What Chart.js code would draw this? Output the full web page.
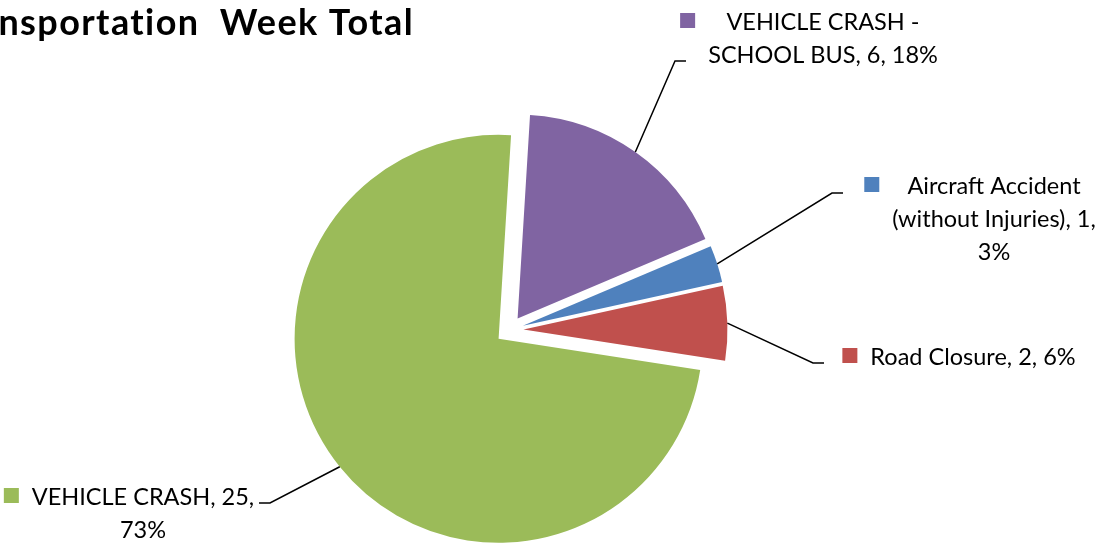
<!DOCTYPE html>
<html>
<head>
<meta charset="utf-8">
<title>Transportation Week Total</title>
<script src="https://cdn.jsdelivr.net/npm/chart.js@4.4.1/dist/chart.umd.min.js"></script>
<style>
    html, body { margin: 0; padding: 0; background: #ffffff; overflow: hidden; }
    canvas { display: block; }
</style>
</head>
<body>
<canvas id="graficoPizza" width="1112" height="544"></canvas>
<script>
// Data (clockwise from the top)
const categories = ['VEHICLE CRASH - SCHOOL BUS', 'Aircraft Accident (without Injuries)', 'Road Closure', 'VEHICLE CRASH'];
const values = [6, 1, 2, 25];
const percents = [18, 3, 6, 73];
const colors = ['#8064A2', '#4F81BD', '#C0504D', '#9BBB59'];
const chartTitle = 'Transportation  Week Total';

const EXPLODE = 14;      // distance each slice is pulled out
const LINE_H = 33;       // line height of the data labels
const LABEL_FONT = '23.5px Lato';
const TITLE_FONT = 'bold 36px Lato';

// Where each data label and its leader line elbow sit
const labelLayout = [
    { cx: 823, y: 30,  maxWidth: 255, elbow: [675, 61],  tail: 11 },
    { cx: 994, y: 194, maxWidth: 228, elbow: [832, 193], tail: 11 },
    { cx: 973, y: 365, maxWidth: 400, elbow: [813, 363], tail: 11 },
    { cx: 143, y: 505, maxWidth: 240, elbow: [270, 503], tail: -11 }
];

// Simple word wrap, like Excel does for data labels
function wrap(ctx, text, maxWidth) {
    const words = text.split(' ');
    const lines = [];
    let line = '';
    words.forEach(w => {
        const test = line ? line + ' ' + w : w;
        if (line && ctx.measureText(test).width > maxWidth) {
            lines.push(line);
            line = w;
        } else {
            line = test;
        }
    });
    if (line) lines.push(line);
    return lines;
}

// Draws every slice pulled out along its bisector
const explodePlugin = {
    id: 'explode',
    beforeDatasetsDraw(chart) {
        const ctx = chart.ctx;
        chart.getDatasetMeta(0).data.forEach(arc => {
            const mid = (arc.startAngle + arc.endAngle) / 2;
            ctx.save();
            ctx.translate(Math.cos(mid) * EXPLODE, Math.sin(mid) * EXPLODE);
            arc.draw(ctx);
            ctx.restore();
        });
        return false; // skip the default drawing
    }
};

// Title, leader lines and data labels with legend keys
const labelPlugin = {
    id: 'labels',
    afterDraw(chart) {
        const ctx = chart.ctx;
        const arcs = chart.getDatasetMeta(0).data;
        ctx.save();

        // title runs off the left edge, as in the original
        ctx.font = TITLE_FONT;
        ctx.letterSpacing = '1.4px'; // also stops the "ti" ligature
        ctx.fillStyle = '#000000';
        ctx.textAlign = 'right';
        ctx.textBaseline = 'alphabetic';
        ctx.fillText(chartTitle, 414, 35);
        ctx.letterSpacing = '0px';

        arcs.forEach((arc, i) => {
            const lay = labelLayout[i];
            const mid = (arc.startAngle + arc.endAngle) / 2;
            const r = arc.outerRadius;
            const x0 = arc.x + Math.cos(mid) * (EXPLODE + r);
            const y0 = arc.y + Math.sin(mid) * (EXPLODE + r);

            ctx.beginPath();
            ctx.moveTo(x0, y0);
            ctx.lineTo(lay.elbow[0], lay.elbow[1]);
            ctx.lineTo(lay.elbow[0] + lay.tail, lay.elbow[1]);
            ctx.strokeStyle = '#000000';
            ctx.lineWidth = 1.5;
            ctx.stroke();

            ctx.font = LABEL_FONT;
            const lines = wrap(ctx, `${categories[i]}, ${values[i]}, ${percents[i]}%`, lay.maxWidth);
            const blockW = Math.max(...lines.map(l => ctx.measureText(l).width));
            ctx.fillStyle = '#000000';
            ctx.textAlign = 'center';
            lines.forEach((l, k) => ctx.fillText(l, lay.cx, lay.y + k * LINE_H));

            const left = lay.cx - blockW / 2;
            ctx.fillStyle = colors[i];
            ctx.fillRect(left - 28, lay.y - 17, 15, 15);
        });
        ctx.restore();
    }
};

function renderChart() {
    const ctx = document.getElementById('graficoPizza').getContext('2d');
    new Chart(ctx, {
        type: 'pie',
        data: {
            labels: categories,
            datasets: [{
                data: values,
                backgroundColor: colors,
                borderWidth: 0,
                radius: 204
            }]
        },
        options: {
            responsive: false,
            animation: false,
            events: [],
            rotation: 3.5,
            layout: { padding: { left: 0, right: 93, top: 116, bottom: 0 } },
            plugins: {
                legend: { display: false },
                title: { display: false },
                tooltip: { enabled: false }
            }
        },
        plugins: [explodePlugin, labelPlugin]
    });
}

Promise.all([document.fonts.load(LABEL_FONT), document.fonts.load(TITLE_FONT)]).then(renderChart, renderChart);
</script>
</body>
</html>
